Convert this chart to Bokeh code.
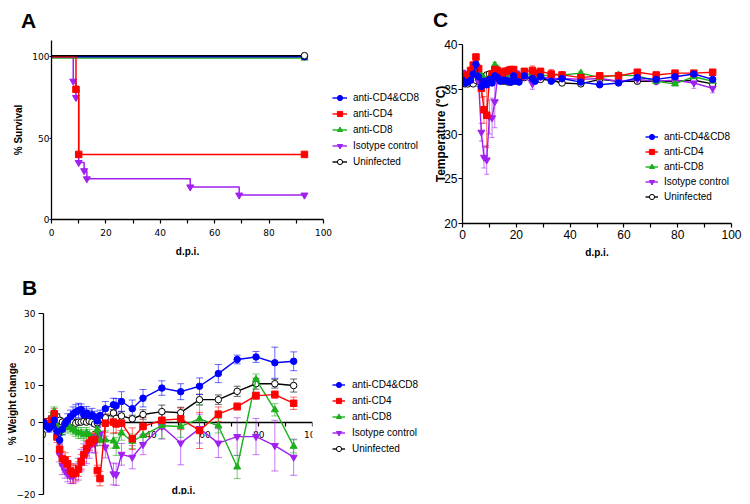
import numpy as np
from bokeh.plotting import figure
from bokeh.models import (ColumnDataSource, Legend, LegendItem, Label, Whisker, TeeHead,
                          FixedTicker, Range1d, Div)
from bokeh.layouts import column, row
from bokeh.embed import file_html
from bokeh.resources import INLINE
from bokeh.transform import dodge

# ---------------- data ----------------
groups = ["anti-CD4&CD8", "anti-CD4", "anti-CD8", "Isotype control", "Uninfected"]

# Panel A: survival (Kaplan-Meier steps)
surv_days = {
    "anti-CD4&CD8": [0, 93],
    "anti-CD4": [0, 9, 10, 93],
    "anti-CD8": [0, 93],
    "Isotype control": [0, 8, 9, 10, 12, 13, 51, 69, 93],
    "Uninfected": [0, 93],
}
surv_pct = {
    "anti-CD4&CD8": [100, 100],
    "anti-CD4": [100, 80, 40, 40],
    "anti-CD8": [100, 100],
    "Isotype control": [100, 85, 75, 35, 30, 25, 20, 15, 15],
    "Uninfected": [100, 100],
}

# days of measurement (panels B and C)
days = [0, 1, 2, 3, 4, 5, 6, 7, 8, 9, 10, 11, 12, 13, 14, 15, 16, 17, 18, 19, 20, 21,
        23, 26, 27, 29, 33, 37, 44, 51, 58, 65, 72, 79, 86, 93]

# Panel B: % weight change (mean, error)
wt_cd4cd8 = [0, -1.0, -1.8, -1.2, 0.5, -2.5, -5.0, -2.0, -0.5, 0.5, 1.5, 2.2, 2.8, 3.2, 3.5, 2.0, 2.5, 1.8, 2.0, 1.5, 0.3, 1.8,
             3.7, 4.8, 4.5, 5.7, 3.7, 6.6, 9.4, 8.4, 9.9, 13.4, 17.3, 18.0, 16.4, 16.8]
wt_cd4cd8_err = [0.8, 1.0, 1.0, 1.2, 1.5, 1.2, 1.3, 1.5, 1.5, 1.8, 1.8, 2.0, 2.0, 2.0, 1.5, 1.8, 1.8, 1.5, 1.8, 1.5, 1.5, 1.5,
                 2.0, 1.8, 2.0, 2.7, 2.4, 2.4, 2.0, 2.2, 2.3, 2.5, 1.2, 1.5, 4.3, 2.6]
wt_cd4 = [0, -0.5, -1.0, 0.5, 2.3, -4.1, -7.5, -10.1, -10.5, -11.5, -13.5, -14.3, -14.0, -13.0, -11.0, -9.0, -7.3, -5.8, -5.0, -4.8, -13.4, -15.6,
          -0.3, 0.0, -0.5, -0.3, -4.6, -1.2, 0.5, 0.9, -2.3, 2.2, 4.3, 7.3, 7.6, 5.2]
wt_cd4_err = [0.8, 1.0, 1.0, 1.2, 1.5, 1.5, 1.5, 2.0, 2.0, 2.0, 2.0, 2.5, 2.0, 2.0, 2.0, 2.0, 2.0, 2.0, 1.8, 1.8, 1.5, 2.0,
              2.5, 3.0, 2.5, 2.0, 3.0, 2.5, 2.5, 3.0, 5.0, 2.0, 1.0, 1.0, 1.0, 1.7]
wt_cd8 = [0, -0.5, -0.5, 1.5, 3.0, -1.0, -3.0, -2.0, -1.5, -1.0, -1.5, -2.0, -2.5, -3.0, -3.0, -3.5, -3.0, -3.5, -4.5, -5.0, -2.0, -5.0,
          -4.9, -5.2, -6.7, -3.0, -5.3, -3.7, -1.0, -1.2, 0.9, -1.0, -12.4, 11.8, 3.4, -6.7]
wt_cd8_err = [0.8, 1.0, 1.0, 1.2, 1.2, 1.5, 1.5, 1.5, 1.5, 1.5, 1.5, 1.5, 1.5, 1.5, 1.5, 1.5, 1.5, 1.5, 1.5, 1.5, 1.5, 1.5,
              2.5, 2.0, 2.5, 2.0, 2.0, 2.0, 3.5, 3.0, 4.0, 2.0, 3.2, 1.5, 1.7, 1.8]
wt_iso = [0, -0.5, -1.0, 0.5, 1.5, -3.0, -9.0, -12.0, -13.5, -14.5, -15.0, -15.0, -14.0, -13.0, -10.5, -9.0, -8.5, -7.0, -6.0, -6.0, -4.0, -3.2,
          -6.9, -14.3, -14.5, -8.9, -9.7, -6.2, -1.2, -5.8, -1.8, -5.8, -4.0, -4.0, -6.5, -9.7]
wt_iso_err = [0.8, 1.0, 1.0, 1.2, 1.5, 2.0, 2.0, 2.5, 2.0, 2.0, 2.0, 2.0, 2.5, 3.0, 3.0, 3.0, 3.0, 3.0, 2.5, 2.5, 2.5, 2.5,
              3.0, 3.0, 3.0, 3.0, 3.2, 2.8, 3.5, 6.0, 4.0, 4.0, 5.2, 5.0, 7.0, 5.0]
wt_uninf = [0, -0.5, 0.3, 1.0, 1.5, 1.5, 0.5, 0.0, -0.3, -0.5, -0.3, 0.0, -0.3, 0.0, 0.0, 0.2, 0.0, 0.3, 0.0, -0.5, -0.2, 0.8,
            1.2, 2.5, 1.0, 1.7, 0.9, 2.1, 2.9, 2.6, 6.2, 6.2, 8.5, 10.6, 10.6, 10.1]
wt_uninf_err = [0.5, 0.6, 0.6, 0.7, 0.8, 0.8, 0.7, 0.6, 0.6, 0.6, 0.6, 0.6, 0.6, 0.6, 0.6, 0.6, 0.6, 0.6, 0.6, 0.6, 0.6, 0.8,
                1.0, 1.0, 1.0, 1.2, 1.0, 1.3, 1.8, 1.5, 1.5, 1.3, 1.4, 1.5, 1.2, 1.8]

# Panel C: temperature (°C)
t_cd4cd8 = [36.0, 35.7, 35.8, 36.0, 36.7, 37.8, 36.4, 35.3, 35.9, 35.5, 36.1, 35.7, 36.5, 36.3, 35.9, 36.0, 36.0, 35.9, 35.8, 36.5, 35.9, 35.8,
            36.5, 36.2, 35.9, 36.4, 35.9, 36.2, 35.8, 35.5, 35.7, 36.3, 36.1, 36.4, 36.7, 36.1]
t_cd4cd8_err = [0.2, 0.2, 0.2, 0.2, 0.2, 0.3, 0.3, 0.3, 0.3, 0.3, 0.2, 0.2, 0.2, 0.2, 0.2, 0.2, 0.2, 0.2, 0.2, 0.2, 0.2, 0.2,
                0.2, 0.2, 0.2, 0.2, 0.2, 0.2, 0.2, 0.2, 0.2, 0.2, 0.2, 0.2, 0.2, 0.2]
t_cd4 = [36.4, 36.3, 36.6, 37.1, 37.7, 38.6, 37.3, 35.1, 32.7, 32.1, 36.0, 36.7, 37.2, 37.1, 36.9, 36.8, 37.0, 37.1, 37.2, 37.2, 36.5, 36.4,
         37.0, 37.1, 36.8, 37.0, 36.7, 36.6, 36.3, 36.5, 36.5, 36.9, 36.6, 36.8, 36.8, 36.9]
t_cd4_err = [0.2, 0.2, 0.2, 0.3, 0.3, 0.3, 0.4, 1.0, 1.5, 3.6, 0.5, 0.4, 0.3, 0.3, 0.3, 0.3, 0.3, 0.3, 0.3, 0.3, 0.3, 0.3,
             0.3, 0.5, 0.3, 0.3, 0.5, 0.3, 0.3, 0.2, 0.2, 0.2, 0.2, 0.2, 0.2, 0.2]
t_cd8 = [36.2, 36.0, 36.1, 36.4, 36.9, 37.9, 37.1, 36.5, 36.2, 36.1, 36.3, 36.6, 37.7, 37.3, 36.9, 36.7, 36.6, 36.6, 36.8, 36.7, 36.5, 36.5,
         36.6, 36.7, 36.5, 36.5, 36.6, 36.6, 36.8, 36.3, 36.6, 36.5, 35.9, 35.6, 36.4, 35.9]
t_cd8_err = [0.2, 0.2, 0.2, 0.2, 0.2, 0.3, 0.3, 0.2, 0.2, 0.2, 0.2, 0.2, 0.3, 0.3, 0.2, 0.2, 0.2, 0.2, 0.2, 0.2, 0.2, 0.2,
             0.2, 0.2, 0.2, 0.2, 0.2, 0.2, 0.2, 0.2, 0.2, 0.2, 0.2, 0.2, 0.3, 0.2]
t_iso = [36.9, 36.5, 36.3, 36.2, 36.6, 37.5, 35.8, 30.2, 27.4, 27.1, 31.9, 31.8, 33.6, 36.3, 36.4, 36.3, 36.4, 36.5, 36.5, 36.6, 36.8, 36.6,
         36.4, 35.6, 36.1, 36.4, 36.2, 36.2, 36.1, 36.2, 35.9, 36.1, 35.9, 36.0, 35.7, 35.1]
t_iso_err = [0.2, 0.2, 0.2, 0.2, 0.3, 0.3, 0.5, 1.0, 1.2, 1.6, 1.9, 2.2, 2.9, 0.4, 0.3, 0.3, 0.3, 0.3, 0.3, 0.3, 0.3, 0.3,
             0.3, 0.6, 0.3, 0.3, 0.3, 0.3, 0.3, 0.3, 0.3, 0.3, 0.3, 0.3, 0.6, 0.5]
t_uninf = [35.9, 35.6, 35.6, 35.8, 35.6, 36.0, 36.2, 36.3, 36.4, 36.6, 36.7, 36.6, 36.4, 36.2, 36.0, 35.9, 35.9, 35.8, 35.8, 35.9, 36.0, 36.1,
           36.3, 36.2, 36.0, 36.1, 36.0, 35.7, 35.6, 36.1, 35.9, 35.9, 35.9, 35.9, 36.0, 35.6]
t_uninf_err = [0.2, 0.2, 0.2, 0.2, 0.2, 0.2, 0.2, 0.2, 0.2, 0.2, 0.2, 0.2, 0.2, 0.2, 0.2, 0.2, 0.2, 0.2, 0.2, 0.2, 0.2, 0.2,
               0.2, 0.2, 0.2, 0.2, 0.2, 0.2, 0.2, 0.2, 0.2, 0.3, 0.2, 0.2, 0.2, 0.2]

weight = {"anti-CD4&CD8": (wt_cd4cd8, wt_cd4cd8_err), "anti-CD4": (wt_cd4, wt_cd4_err),
          "anti-CD8": (wt_cd8, wt_cd8_err), "Isotype control": (wt_iso, wt_iso_err),
          "Uninfected": (wt_uninf, wt_uninf_err)}
temp = {"anti-CD4&CD8": (t_cd4cd8, t_cd4cd8_err), "anti-CD4": (t_cd4, t_cd4_err),
        "anti-CD8": (t_cd8, t_cd8_err), "Isotype control": (t_iso, t_iso_err),
        "Uninfected": (t_uninf, t_uninf_err)}

x_ticks = [0, 20, 40, 60, 80, 100]
x_minor = [10, 30, 50, 70, 90]
a_y_ticks = [0, 50, 100]
b_y_ticks = [-20, -10, 0, 10, 20, 30]
c_y_ticks = [20, 25, 30, 35, 40]

# ---------------- styles ----------------
STY = {
    "anti-CD4&CD8": dict(color="#0000FF", marker="circle", fill="#0000FF", size=6.5),
    "anti-CD4": dict(color="#FF0000", marker="square", fill="#FF0000", size=6.5),
    "anti-CD8": dict(color="#1DB01D", marker="triangle", fill="#1DB01D", size=7),
    "Isotype control": dict(color="#A020F0", marker="inverted_triangle", fill="#A020F0", size=7),
    "Uninfected": dict(color="#000000", marker="circle", fill="#FFFFFF", size=6.5),
}
DRAW_ORDER = ["Uninfected", "Isotype control", "anti-CD8", "anti-CD4", "anti-CD4&CD8"]
FONT = "Liberation Sans"
SMALL_FONT = "DejaVu Sans"


def blank_fig(w, h, mt=0, ml=0):
    q = figure(width=w, height=h, x_range=Range1d(0, 1), y_range=Range1d(0, 1),
               output_backend="svg", toolbar_location=None, title=None,
               x_axis_location=None, y_axis_location=None,
               min_border_left=ml, min_border_right=0, min_border_top=mt, min_border_bottom=0)
    q.xgrid.visible = False
    q.ygrid.visible = False
    q.outline_line_color = None
    return q


def base_fig(w, h, xr, yr, ml, mr, mt, mb):
    p = figure(width=w, height=h, x_range=Range1d(*xr), y_range=Range1d(*yr),
               output_backend="svg", toolbar_location=None, title=None,
               min_border_left=ml, min_border_right=mr, min_border_top=mt, min_border_bottom=mb)
    p.xgrid.visible = False
    p.ygrid.visible = False
    p.outline_line_color = None
    for ax in (p.xaxis[0], p.yaxis[0]):
        ax.axis_line_color = "black"
        ax.axis_line_width = 1.3
        ax.major_tick_line_color = "black"
        ax.minor_tick_line_color = "black"
        ax.major_tick_line_width = 1.2
        ax.minor_tick_line_width = 1.2
        ax.major_tick_in = 0
        ax.minor_tick_in = 0
        ax.axis_label_text_font = FONT
        ax.axis_label_text_font_style = "bold"
        ax.axis_label_text_font_size = "10px"
        ax.axis_label_text_color = "black"
        ax.major_label_text_color = "black"
    return p


def make_legend(items, loc, glyph_w, pitch_h, spacing, standoff, fsize):
    return Legend(items=items, location=loc, orientation="vertical",
                  label_text_font=FONT, label_text_font_size=fsize, label_text_color="black",
                  glyph_width=glyph_w, glyph_height=pitch_h, label_height=pitch_h,
                  label_standoff=standoff, spacing=spacing, padding=0, margin=0,
                  border_line_alpha=0, background_fill_alpha=0)


def legend_fig(w, h, top, left, glyph_w, pitch_h, spacing, standoff, fsize):
    """A blank side figure that only carries a legend keyed with the series' styles."""
    q = blank_fig(w, h, mt=top, ml=left)
    items = []
    for g in groups:
        s = STY[g]
        key = ColumnDataSource(dict(x=np.array([np.nan]), y=np.array([np.nan])))
        ln = q.line("x", "y", source=key, line_color=s["color"], line_width=1.4)
        sc = q.scatter("x", "y", source=key, marker=s["marker"], size=s["size"],
                       fill_color=s["fill"], line_color=s["color"], line_width=1)
        items.append(LegendItem(label=g, renderers=[ln, sc]))
    q.add_layout(make_legend(items, "top_left", glyph_w, pitch_h, spacing, standoff, fsize))
    return q


def header(w, h, txt, left, top):
    """Panel letter as a plain text block above the panel."""
    return Div(text=txt, width=w, height=h, margin=0,
               styles={"font-family": FONT, "font-size": "21px", "font-weight": "bold",
                       "line-height": "21px", "color": "black", "box-sizing": "border-box",
                       "padding-left": f"{left}px", "padding-top": f"{top}px",
                       "overflow": "visible"})


def draw_series(p, x, y, err, s, head, err_alpha):
    y = np.asarray(y, dtype=float)
    e = np.asarray(err, dtype=float)
    src = ColumnDataSource(dict(x=x, y=y, lo=y - e, hi=y + e))
    w = Whisker(base="x", upper="hi", lower="lo", source=src, dimension="height",
                line_color=s["color"], line_alpha=err_alpha, line_width=1,
                upper_head=TeeHead(size=head, line_color=s["color"], line_alpha=err_alpha, line_width=1),
                lower_head=TeeHead(size=head, line_color=s["color"], line_alpha=err_alpha, line_width=1),
                level="underlay")
    p.add_layout(w)
    ln = p.line("x", "y", source=src, line_color=s["color"], line_width=1.4)
    sc = p.scatter("x", "y", source=src, marker=s["marker"], size=s["size"],
                   fill_color=s["fill"], line_color=s["color"], line_width=1)
    return [ln, sc]


# ---------------- Panel A ----------------
hdrA = header(332, 36, "A", 21, 10)
pA = base_fig(332, 236, (0, 100), (0, 110), 51, 9, 4, 236 - 4 - 179)
pA.xaxis.ticker = FixedTicker(ticks=x_ticks, minor_ticks=x_minor)
pA.yaxis.ticker = FixedTicker(ticks=a_y_ticks, minor_ticks=[])
pA.xaxis.axis_label = "d.p.i."
pA.yaxis.axis_label = "% Survival"
for ax in (pA.xaxis[0], pA.yaxis[0]):
    ax.major_label_text_font = SMALL_FONT
    ax.major_label_text_font_size = "9px"
pA.xaxis.major_tick_out = 4
pA.xaxis.minor_tick_out = 4
pA.xaxis.major_label_standoff = 5
pA.xaxis.axis_label_standoff = 7
pA.yaxis.major_tick_out = 2
pA.yaxis.major_label_standoff = 0
pA.yaxis.axis_label_standoff = 5

A_OFFSET = {"Uninfected": 0.7, "anti-CD4&CD8": 0.0, "anti-CD8": -0.8}
A_ORDER = ["anti-CD8", "anti-CD4&CD8", "Isotype control", "anti-CD4", "Uninfected"]
for g in A_ORDER:
    s = STY[g]
    src = ColumnDataSource(dict(x=surv_days[g], y=surv_pct[g]))
    msrc = ColumnDataSource(dict(x=surv_days[g][1:], y=surv_pct[g][1:]))
    off = A_OFFSET.get(g, 0.0)
    pA.step("x", dodge("y", off, range=pA.y_range), source=src, mode="after",
            line_color=s["color"], line_width=1.5)
    pA.scatter("x", dodge("y", off, range=pA.y_range), source=msrc, marker=s["marker"],
               size=s["size"], fill_color=s["fill"], line_color=s["color"], line_width=1)

legA = legend_fig(88, 272, 91, 0, 15, 13, 3, 6, "10px")

# ---------------- Panel C ----------------
hdrC = header(330, 36, "C", 13, 9)
pC = base_fig(330, 236, (0, 100), (20, 40), 42, 19, 8, 236 - 8 - 179)
pC.xaxis.ticker = FixedTicker(ticks=x_ticks, minor_ticks=x_minor)
pC.yaxis.ticker = FixedTicker(ticks=c_y_ticks, minor_ticks=[])
pC.xaxis.axis_label = "d.p.i."
pC.yaxis.axis_label = "Temperature (°C)"
pC.yaxis.axis_label_text_font_size = "12px"
for ax in (pC.xaxis[0], pC.yaxis[0]):
    ax.major_label_text_font = FONT
    ax.major_label_text_font_size = "12px"
pC.xaxis.major_tick_out = 4
pC.xaxis.minor_tick_out = 4
pC.xaxis.major_label_standoff = 2
pC.xaxis.axis_label_standoff = 5
pC.yaxis.major_tick_out = 4
pC.yaxis.major_label_standoff = 1
pC.yaxis.axis_label_standoff = -7
rendC = {}
for g in DRAW_ORDER:
    y, e = temp[g]
    rendC[g] = draw_series(pC, days, y, e, STY[g], 5, 0.6)
pC.add_layout(make_legend([LegendItem(label=g, renderers=rendC[g]) for g in groups],
                          (183, 20), 13, 13, 2, 6, "10px"))

# ---------------- Panel B ----------------
hdrB = header(322, 35, "B", 22, 5)
pB = base_fig(322, 197, (0, 100), (-20, 30), 43, 10, 6, 10)
pB.xaxis.fixed_location = 0
pB.xaxis.level = "underlay"
pB.xaxis.ticker = FixedTicker(ticks=x_ticks, minor_ticks=x_minor)
pB.yaxis.ticker = FixedTicker(ticks=b_y_ticks, minor_ticks=[])
pB.yaxis.axis_label = "% Weight change"
for ax in (pB.xaxis[0], pB.yaxis[0]):
    ax.major_label_text_font = SMALL_FONT
    ax.major_label_text_font_size = "9px"
pB.xaxis.major_tick_out = 4
pB.xaxis.minor_tick_out = 4
pB.xaxis.major_label_standoff = 5
pB.yaxis.major_tick_out = 5
pB.yaxis.major_label_standoff = 3
pB.yaxis.axis_label_standoff = -4
for g in DRAW_ORDER:
    y, e = weight[g]
    draw_series(pB, days, y, e, STY[g], 7, 0.6)
pB.add_layout(Label(x=140, y=4, x_units="screen", y_units="screen", text="d.p.i.",
                    text_font=FONT, text_font_style="bold", text_font_size="10px",
                    text_color="black", text_baseline="middle", text_align="center"))

legB = legend_fig(138, 232, 106, 10, 13, 13, 3, 7, "10px")

layout = column(row(column(hdrA, pA), legA, column(hdrC, pC)),
                row(column(hdrB, pB), legB))
html = file_html(layout, INLINE, title="Figure")
open("out.html", "w").write(html)
